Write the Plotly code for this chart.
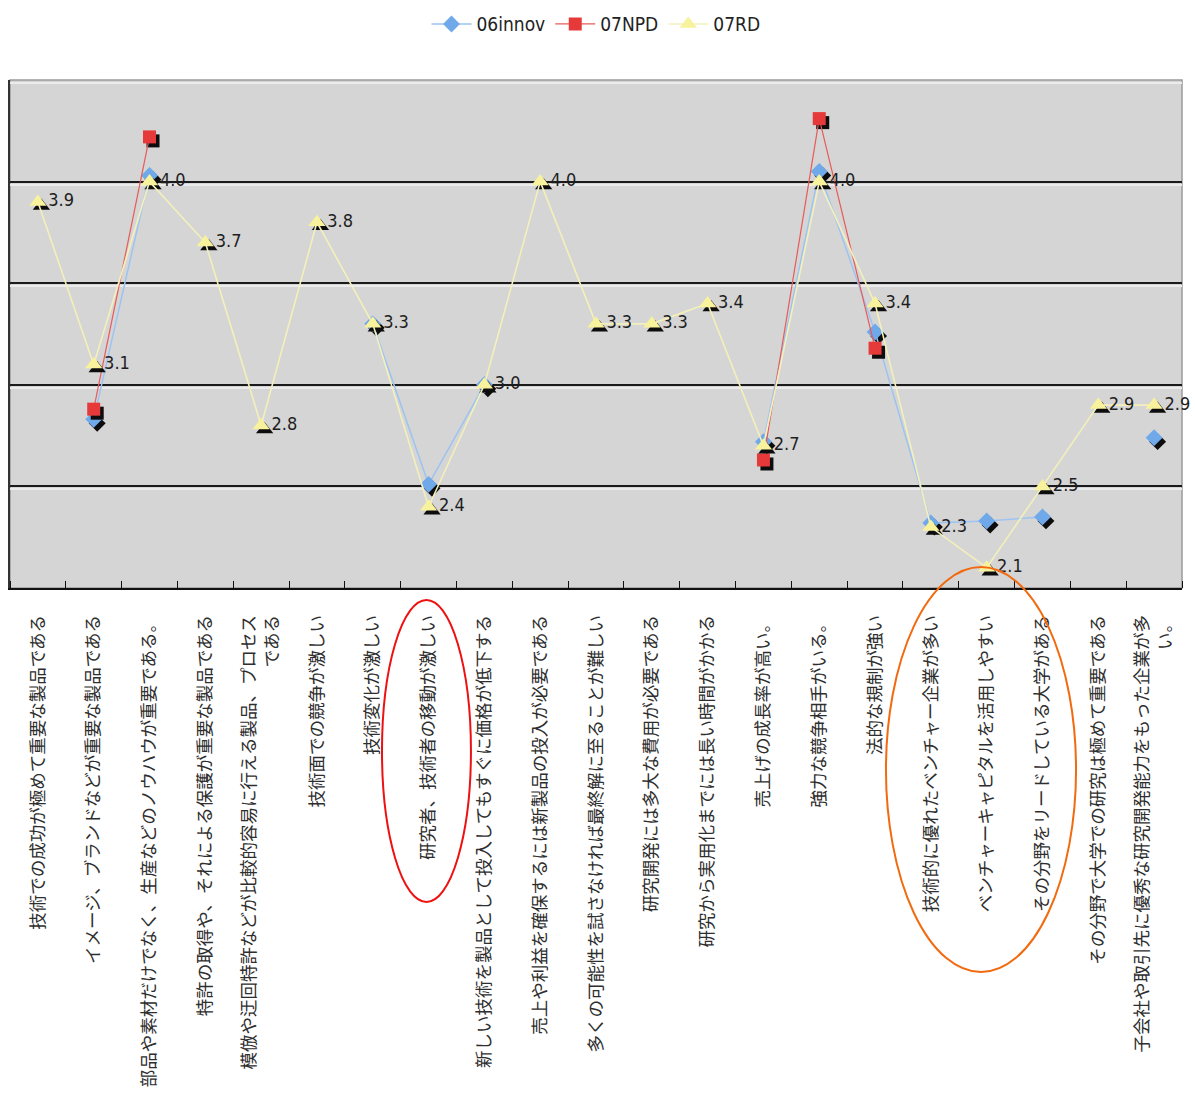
import plotly.graph_objects as go

# Survey items (category axis)
categories = [
    "技術での成功が極めて重要な製品である",
    "イメージ、ブランドなどが重要な製品である",
    "部品や素材だけでなく、生産などのノウハウが重要である。",
    "特許の取得や、それによる保護が重要な製品である",
    "模倣や迂回特許などが比較的容易に行える製品、プロセス<br>である",
    "技術面での競争が激しい",
    "技術変化が激しい",
    "研究者、技術者の移動が激しい",
    "新しい技術を製品として投入してもすぐに価格が低下する",
    "売上や利益を確保するには新製品の投入が必要である",
    "多くの可能性を試さなければ最終解に至ることが難しい",
    "研究開発には多大な費用が必要である",
    "研究から実用化までには長い時間がかかる",
    "売上げの成長率が高い。",
    "強力な競争相手がいる。",
    "法的な規制が強い",
    "技術的に優れたベンチャー企業が多い",
    "ベンチャーキャピタルを活用しやすい",
    "その分野をリードしている大学がある",
    "その分野で大学での研究は極めて重要である",
    "子会社や取引先に優秀な研究開発能力をもった企業が多<br>い。",
]

# Mean scores per survey (None = item not asked)
innov_06 = [None, 2.83, 4.03, None, None, None, 3.3, 2.51, 3.0, None, None,
            None, None, 2.72, 4.05, 3.26, 2.32, 2.33, 2.35, None, 2.74]
npd_07 = [None, 2.88, 4.22, None, None, None, None, None, None, None, None,
          None, None, 2.63, 4.31, 3.18, None, None, None, None, None]
rd_07 = [3.9, 3.1, 4.0, 3.7, 2.8, 3.8, 3.3, 2.4, 3.0, 4.0, 3.3,
         3.3, 3.4, 2.7, 4.0, 3.4, 2.3, 2.1, 2.5, 2.9, 2.9]

x_idx = list(range(len(categories)))

NARROW = "Liberation Sans Narrow, Arial Narrow, DejaVu Sans Condensed, Roboto Condensed, Liberation Sans"

# plot area geometry (px) used for the drop-shadow offset of the markers
PLOT_W, PLOT_H = 1172, 508
Y_MIN, Y_MAX = 2.0, 4.5
x_per_px = len(categories) / PLOT_W
y_per_px = (Y_MAX - Y_MIN) / PLOT_H
SH_DX, SH_DY = 3.5, 4

def shadow_y(vals):
    return [None if v is None else v - SH_DY * y_per_px for v in vals]

shadow_x = [i + SH_DX * x_per_px for i in x_idx]

series = [
    ("06innov", innov_06, "diamond", 13, "#6fa9ea", "#9cc4f2", 1.5),
    ("07NPD", npd_07, "square", 13, "#e63a3a", "#e85a5a", 1.2),
    ("07RD", rd_07, "triangle-up", 15, "#f8f29c", "#f3f0bb", 1.6),
]

fig = go.Figure()
for name, vals, sym, size, mcol, lcol, lw in series:
    # black drop shadow under each marker
    fig.add_trace(go.Scatter(
        x=shadow_x, y=shadow_y(vals), mode="markers",
        marker=dict(symbol=sym, size=size, color="#0d0d0d"),
        showlegend=False, hoverinfo="skip", cliponaxis=False,
    ))
    is_rd = name == "07RD"
    fig.add_trace(go.Scatter(
        x=x_idx, y=vals, name=name,
        mode="lines+markers+text" if is_rd else "lines+markers",
        line=dict(color=lcol, width=lw),
        marker=dict(symbol=sym, size=size, color=mcol),
        text=[f"{v:.1f}" for v in vals] if is_rd else None,
        textposition="middle right",
        textfont=dict(family=NARROW, size=18, color="#1e1e1e"),
        cliponaxis=False,
    ))

# frame of the plot area
fig.add_shape(type="rect", xref="paper", yref="paper", x0=0, x1=1, y0=0, y1=1,
              line=dict(color="#9a9a9a", width=1.5), layer="below")

# highlight ellipses around category labels
fig.add_shape(type="circle", xref="paper", yref="paper",
              x0=0.3174, x1=0.3933, y0=-0.618, y1=-0.0236,
              line=dict(color="#ee1111", width=2))
fig.add_shape(type="circle", xref="paper", yref="paper",
              x0=0.7474, x1=0.9096, y0=-0.756, y1=0.0413,
              line=dict(color="#f26a10", width=2))

fig.update_layout(
    width=1195, height=1099,
    margin=dict(l=10, r=13, t=80, b=511, autoexpand=False),
    paper_bgcolor="white",
    plot_bgcolor="#d5d5d5",
    showlegend=True,
    legend=dict(orientation="h", x=0.5, xanchor="center", y=1.11, yanchor="middle",
                font=dict(family=NARROW, size=19, color="#222222"),
                bgcolor="rgba(0,0,0,0)", itemwidth=40),
    xaxis=dict(
        range=[-0.5, len(categories) - 0.5],
        tickmode="array", tickvals=x_idx, ticktext=categories,
        tickangle=-90, ticks="", ticklabelstandoff=18,
        tickfont=dict(family="Noto Sans CJK JP", size=17.5, color="#2e2e2e"),
        showgrid=False, zeroline=False,
        showline=True, linecolor="#111111", linewidth=2,
        minor=dict(tick0=0.5, dtick=1, ticks="inside", ticklen=7,
                   tickcolor="#111111", tickwidth=1, showgrid=False),
        automargin=False,
    ),
    yaxis=dict(
        range=[Y_MIN, Y_MAX], tick0=2.0, dtick=0.5,
        showticklabels=False, ticks="",
        showgrid=True, gridcolor="#1a1a1a", gridwidth=2,
        minor=dict(tick0=2.0 - 3 * y_per_px, dtick=0.5, showgrid=True,
                   gridcolor="#ebebeb", gridwidth=1.5),
        zeroline=False,
        showline=True, linecolor="#333333", linewidth=2,
        automargin=False,
    ),
)

fig.write_html("out.html")
